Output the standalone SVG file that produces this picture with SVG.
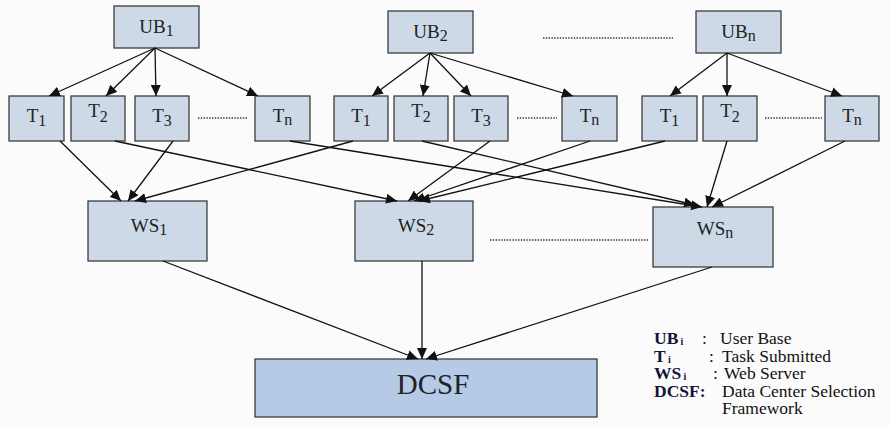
<svg xmlns="http://www.w3.org/2000/svg" width="890" height="427" viewBox="0 0 890 427">
<defs>
<marker id="ah" markerUnits="userSpaceOnUse" markerWidth="12" markerHeight="10" refX="11" refY="5" orient="auto">
<path d="M0,0 L11,5 L0,10 Z" fill="#111"/>
</marker>
<style>
.bx{fill:#cdd9e7;stroke:#3c3c3c;stroke-width:1.3}
.dc{fill:#b5cae7;stroke:#3c3c3c;stroke-width:1.3}
.t{font-size:19px;fill:#222;text-anchor:middle}
.s{font-size:16px}
.c{stroke:#111;stroke-width:1.3;fill:none;marker-end:url(#ah)}
.d{stroke:#333;stroke-width:1.6;stroke-dasharray:1.4 1.4;fill:none}
.lg{font-size:17.5px;fill:#111}
.lb{font-weight:bold;fill:#14143a}
.li{font-weight:bold;fill:#14143a;font-size:10px}
</style>
</defs>
<rect width="890" height="427" fill="#fbfbfb"/>
<g font-family="Liberation Serif, Times New Roman, DejaVu Serif, serif">
<g id="UB1"><rect class="bx" x="114" y="6" width="85" height="42"/><text class="t" x="156.5" y="33">UB<tspan class="s" dy="3">1</tspan></text></g>
<g id="UB2"><rect class="bx" x="388" y="11" width="85" height="42"/><text class="t" x="430.5" y="38">UB<tspan class="s" dy="3">2</tspan></text></g>
<g id="UBn"><rect class="bx" x="696" y="11" width="85" height="42"/><text class="t" x="738.5" y="38">UB<tspan class="s" dy="3">n</tspan></text></g>

<g id="T1a"><rect class="bx" x="9" y="96" width="55" height="45"/><text class="t" x="36.5" y="122">T<tspan class="s" dy="4">1</tspan></text></g>
<g id="T2a"><rect class="bx" x="71" y="96" width="54" height="45"/><text class="t" x="98" y="117">T<tspan class="s" dy="5">2</tspan></text></g>
<g id="T3a"><rect class="bx" x="135" y="96" width="54" height="45"/><text class="t" x="162" y="122">T<tspan class="s" dy="4">3</tspan></text></g>
<g id="Tna"><rect class="bx" x="255" y="96" width="55" height="45"/><text class="t" x="282.5" y="122">T<tspan class="s" dy="3">n</tspan></text></g>

<g id="T1b"><rect class="bx" x="334" y="96" width="54" height="45"/><text class="t" x="361" y="122">T<tspan class="s" dy="4">1</tspan></text></g>
<g id="T2b"><rect class="bx" x="394" y="96" width="54" height="45"/><text class="t" x="421" y="117">T<tspan class="s" dy="5">2</tspan></text></g>
<g id="T3b"><rect class="bx" x="454" y="96" width="54" height="45"/><text class="t" x="481" y="122">T<tspan class="s" dy="4">3</tspan></text></g>
<g id="Tnb"><rect class="bx" x="562" y="96" width="55" height="45"/><text class="t" x="589.5" y="122">T<tspan class="s" dy="3">n</tspan></text></g>

<g id="T1c"><rect class="bx" x="642" y="96" width="55" height="45"/><text class="t" x="669.5" y="122">T<tspan class="s" dy="4">1</tspan></text></g>
<g id="T2c"><rect class="bx" x="703" y="96" width="54" height="45"/><text class="t" x="730" y="117">T<tspan class="s" dy="5">2</tspan></text></g>
<g id="Tnc"><rect class="bx" x="825" y="96" width="54" height="45"/><text class="t" x="852" y="122">T<tspan class="s" dy="3">n</tspan></text></g>

<g id="WS1"><rect class="bx" x="88" y="201" width="119" height="60"/><text class="t" x="149" y="232">WS<tspan class="s" dy="3">1</tspan></text></g>
<g id="WS2"><rect class="bx" x="355" y="201" width="118" height="60"/><text class="t" x="416" y="232">WS<tspan class="s" dy="3">2</tspan></text></g>
<g id="WSn"><rect class="bx" x="653" y="207" width="120" height="60"/><text class="t" x="715" y="235">WS<tspan class="s" dy="3">n</tspan></text></g>

<g id="DCSF"><rect class="dc" x="255" y="359" width="342" height="58"/><text class="t" x="433" y="394" style="font-size:29px">DCSF</text></g>

<g id="legend" class="lg">
<text x="654" y="344" class="lb">UB</text><text x="680.5" y="345" class="li">i</text>
<text x="702" y="344">:</text>
<text x="720" y="344">User Base</text>
<text x="654" y="361.5" class="lb">T</text><text x="668" y="362.5" class="li">i</text>
<text x="709" y="361.5">:</text>
<text x="722" y="361.5">Task Submitted</text>
<text x="654" y="379" class="lb">WS</text><text x="683.5" y="380" class="li">i</text>
<text x="713" y="379">:</text>
<text x="724" y="379">Web Server</text>
<text x="654" y="396.5" class="lb">DCSF:</text>
<text x="722" y="396.5">Data Center Selection</text>
<text x="722" y="414">Framework</text>
</g>
</g>

<g id="dots">
<line class="d" x1="198" y1="118" x2="248" y2="118"/>
<line class="d" x1="517" y1="118" x2="557" y2="118"/>
<line class="d" x1="765" y1="118" x2="822" y2="118"/>
<line class="d" x1="543" y1="38" x2="673" y2="38"/>
<line class="d" x1="490" y1="240" x2="648" y2="240"/>
</g>

<g id="connectors">
<line class="c" x1="155" y1="48" x2="49" y2="96"/>
<line class="c" x1="155" y1="48" x2="106" y2="96"/>
<line class="c" x1="155" y1="48" x2="156" y2="96"/>
<line class="c" x1="155" y1="48" x2="258" y2="96"/>
<line class="c" x1="430" y1="53" x2="372" y2="96"/>
<line class="c" x1="430" y1="53" x2="423" y2="96"/>
<line class="c" x1="430" y1="53" x2="471" y2="96"/>
<line class="c" x1="430" y1="53" x2="573" y2="96"/>
<line class="c" x1="727" y1="53" x2="670" y2="96"/>
<line class="c" x1="727" y1="53" x2="727" y2="96"/>
<line class="c" x1="727" y1="53" x2="842" y2="96"/>

<line class="c" x1="60" y1="141" x2="121" y2="201"/>
<line class="c" x1="173" y1="141" x2="128" y2="201"/>
<line class="c" x1="353" y1="141" x2="135" y2="201"/>
<line class="c" x1="115" y1="141" x2="397" y2="201"/>
<line class="c" x1="490" y1="141" x2="408" y2="201"/>
<line class="c" x1="590" y1="141" x2="414" y2="201"/>
<line class="c" x1="665" y1="141" x2="419" y2="201"/>
<line class="c" x1="290" y1="141" x2="702" y2="207"/>
<line class="c" x1="422" y1="141" x2="695" y2="205"/>
<line class="c" x1="727" y1="141" x2="707" y2="207"/>
<line class="c" x1="845" y1="141" x2="712" y2="207"/>

<line class="c" x1="163" y1="261" x2="418" y2="359"/>
<line class="c" x1="422" y1="261" x2="422" y2="359"/>
<line class="c" x1="712" y1="267" x2="426" y2="359"/>
</g>
</svg>
